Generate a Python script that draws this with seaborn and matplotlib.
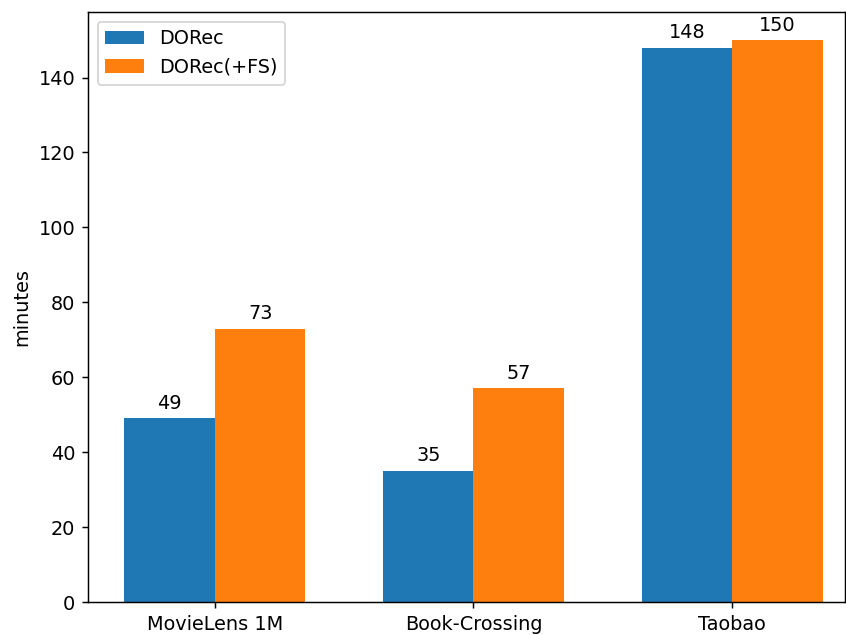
import pandas as pd
import seaborn as sns
import matplotlib.pyplot as plt

datasets = ['MovieLens 1M', 'Book-Crossing', 'Taobao']
dorec = [49, 35, 148]
dorec_fs = [73, 57, 150]
methods = ['DORec', 'DORec(+FS)']

df = pd.DataFrame({
    'dataset': datasets * 2,
    'minutes': dorec + dorec_fs,
    'method': [methods[0]] * 3 + [methods[1]] * 3,
})

plt.rcParams['font.size'] = 10.5

fig = plt.figure(figsize=(846 / 132, 635 / 132), dpi=132)
ax = fig.add_axes([88 / 846, 33 / 635, 757 / 846, 590 / 635])

sns.barplot(
    data=df,
    x='dataset',
    y='minutes',
    hue='method',
    palette=['#1f77b4', '#ff7f0e'],
    width=0.7,
    saturation=1,
    ax=ax
)

for c in ax.containers:
    ax.bar_label(c, padding=3)

ax.set_xlim(-0.491, 2.437)
ax.set_ylim(0, 157.5)
ax.set_xlabel('')
ax.set_ylabel('minutes')
ax.legend(loc='upper left')

plt.savefig('out.png', dpi=132)
